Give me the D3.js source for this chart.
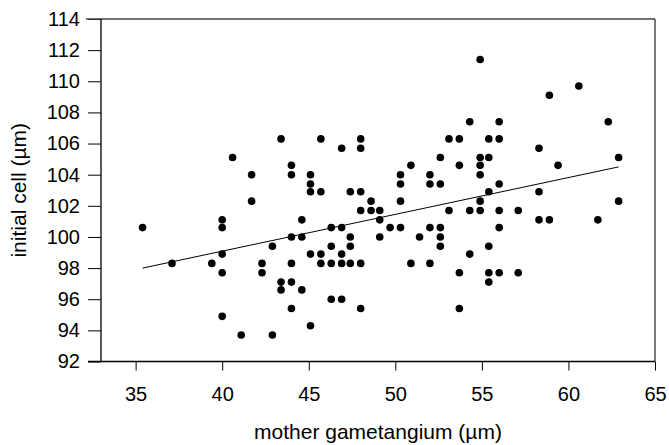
<!DOCTYPE html>
<meta charset="utf-8">
<style>
  body { margin: 0; background: #fff; }
  text { font-family: "Liberation Sans", Arial, sans-serif; }
</style>

<!-- Load d3.js -->
<script src="https://d3js.org/d3.v7.min.js"></script>

<div id="my_dataviz"></div>

<script>

// mother gametangium (x) and initial cell (y), micrometres
var gametangium = [
  35.4, 37.1, 39.4, 40, 40, 40, 40, 40, 40.6, 41.1,
  41.7, 41.7, 42.3, 42.3, 42.9, 42.9, 43.4, 43.4, 43.4, 44,
  44, 44, 44, 44, 44, 44.6, 44.6, 44.6, 45.1, 45.1,
  45.1, 45.1, 45.1, 45.7, 45.7, 45.7, 45.7, 46.3, 46.3, 46.3,
  46.3, 46.9, 46.9, 46.9, 46.9, 46.9, 47.4, 47.4, 47.4, 47.4,
  48, 48, 48, 48, 48, 48, 48.6, 48.6, 49.1, 49.1,
  49.1, 49.7, 50.3, 50.3, 50.3, 50.3, 50.9, 50.9, 51.4, 52,
  52, 52, 52, 52.6, 52.6, 52.6, 52.6, 52.6, 53.1, 53.1,
  53.7, 53.7, 53.7, 53.7, 54.3, 54.3, 54.3, 54.9, 54.9, 54.9,
  54.9, 54.9, 54.9, 55.4, 55.4, 55.4, 55.4, 55.4, 55.4, 56,
  56, 56, 56, 56, 56, 57.1, 57.1, 58.3, 58.3, 58.3,
  58.9, 58.9, 59.4, 60.6, 61.7, 62.3, 62.9, 62.9
];
var initialCell = [
  100.6, 98.3, 98.3, 101.1, 100.6, 98.9, 97.7, 94.9, 105.1, 93.7,
  104, 102.3, 98.3, 97.7, 99.4, 93.7, 106.3, 97.1, 96.6, 104.6,
  104, 100, 98.3, 97.1, 95.4, 101.1, 100, 96.6, 104, 103.4,
  102.9, 98.9, 94.3, 106.3, 102.9, 98.9, 98.3, 100.6, 99.4, 98.3,
  96, 105.7, 100.6, 98.9, 98.3, 96, 102.9, 100, 99.4, 98.3,
  106.3, 105.7, 102.9, 101.7, 98.3, 95.4, 102.3, 101.7, 101.7, 101.1,
  100, 100.6, 104, 103.4, 102.3, 100.6, 104.6, 98.3, 100, 104,
  103.4, 100.6, 98.3, 105.1, 103.4, 100.6, 100, 99.4, 106.3, 101.7,
  106.3, 104.6, 97.7, 95.4, 107.4, 101.7, 98.9, 111.4, 105.1, 104.6,
  104, 102.3, 101.7, 106.3, 105.1, 102.9, 99.4, 97.7, 97.1, 107.4,
  106.3, 103.4, 101.7, 100.6, 97.7, 101.7, 97.7, 105.7, 102.9, 101.1,
  109.1, 101.1, 104.6, 109.7, 101.1, 107.4, 105.1, 102.3
];

// fitted line end points as drawn
var fitX = [35.4, 62.9];
var fitY = [98.0, 104.5];

var xTicks = [35, 40, 45, 50, 55, 60, 65];
var yTicks = [92, 94, 96, 98, 100, 102, 104, 106, 108, 110, 112, 114];

var data = gametangium.map(function(d, i) { return {x: d, y: initialCell[i]}; });

// set the dimensions and margins of the graph
var margin = {top: 19, right: 14, bottom: 83.5, left: 101},
    width = 669 - margin.left - margin.right,
    height = 445 - margin.top - margin.bottom;

var svg = d3.select("#my_dataviz")
  .append("svg")
    .attr("width", 669)
    .attr("height", 445)
  .append("g")
    .attr("transform", "translate(" + margin.left + "," + margin.top + ")");

var x = d3.scaleLinear()
  .domain([33, 65])
  .range([0, width]);

var y = d3.scaleLinear()
  .domain([92, 114])
  .range([height, 0]);

// X axis
var xAxis = svg.append("g")
  .attr("transform", "translate(0," + height + ")")
  .call(d3.axisBottom(x).tickValues(xTicks).tickSize(9).tickSizeOuter(0).tickPadding(16));
xAxis.select(".domain").remove();
xAxis.selectAll("text").attr("font-size", "20px").attr("fill", "#000");

// Y axis
var yAxis = svg.append("g")
  .call(d3.axisLeft(y).tickValues(yTicks).tickSize(13).tickSizeOuter(0).tickPadding(8));
yAxis.select(".domain").remove();
yAxis.selectAll("text").attr("font-size", "20px").attr("fill", "#000");

// frame
svg.append("line")
  .attr("x1", -15).attr("x2", width).attr("y1", 0).attr("y2", 0)
  .attr("stroke", "#444").attr("stroke-width", 1.5);
svg.append("line")
  .attr("x1", -13).attr("x2", width).attr("y1", height).attr("y2", height)
  .attr("stroke", "#000").attr("stroke-width", 1.3);
svg.append("line")
  .attr("x1", 0).attr("x2", 0).attr("y1", 0).attr("y2", height)
  .attr("stroke", "#000").attr("stroke-width", 1.3);
svg.append("line")
  .attr("x1", width).attr("x2", width).attr("y1", 0).attr("y2", height)
  .attr("stroke", "#333").attr("stroke-width", 1.3);

// regression line
svg.append("line")
  .attr("x1", x(fitX[0])).attr("y1", y(fitY[0]))
  .attr("x2", x(fitX[1])).attr("y2", y(fitY[1]))
  .attr("stroke", "#000").attr("stroke-width", 1);

// dots
svg.selectAll("circle")
  .data(data)
  .enter()
  .append("circle")
    .attr("cx", function(d) { return x(d.x); })
    .attr("cy", function(d) { return y(d.y); })
    .attr("r", 3.8)
    .attr("fill", "#000");

// axis titles
svg.append("text")
  .attr("x", width / 2)
  .attr("y", height + 77)
  .attr("text-anchor", "middle")
  .attr("font-size", "21px")
  .text("mother gametangium (µm)");

svg.append("text")
  .attr("transform", "translate(" + (-75) + "," + (height / 2) + ") rotate(-90)")
  .attr("text-anchor", "middle")
  .attr("font-size", "21px")
  .text("initial cell (µm)");

</script>
